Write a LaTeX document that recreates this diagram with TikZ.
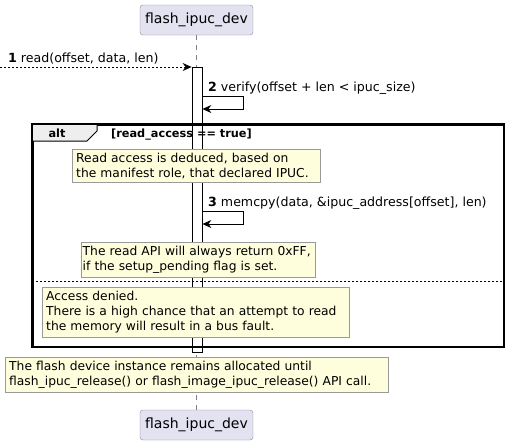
\documentclass[tikz,border=0pt]{standalone}
\usepackage{fontspec}
\setmainfont{DejaVu Sans}
\usetikzlibrary{arrows.meta}
\definecolor{partfill}{HTML}{E2E2F0}
\definecolor{partdraw}{HTML}{8A8AA0}
\definecolor{notefill}{HTML}{FEFEDC}
\definecolor{notedraw}{HTML}{9A9A9A}
\definecolor{tabfill}{HTML}{EEEEEE}
\tikzset{
  part/.style={draw=partdraw, fill=partfill, rounded corners=3pt, minimum width=113pt,
    minimum height=30pt, inner sep=0pt, font=\fontsize{14}{16}\selectfont},
  life/.style={draw=gray, dash pattern=on 5pt off 5pt, line width=0.6pt},
  actbar/.style={draw=black, fill=white, minimum width=10pt, inner sep=0pt, line width=0.8pt},
  msglabel/.style={inner sep=0pt, font=\fontsize{12.6}{15}\selectfont},
  msg/.style={draw=black, line width=0.8pt, -{Stealth[length=9pt, width=8pt, inset=3pt]}},
  dashmsg/.style={msg, dash pattern=on 2pt off 2pt},
  note/.style={draw=notedraw, fill=notefill, anchor=north west, align=left, inner xsep=4pt,
    inner ysep=3.5pt, font=\fontsize{12.3}{15.4}\selectfont},
  altframe/.style={draw=black, line width=1.5pt, anchor=north west, inner sep=0pt},
  condlabel/.style={inner sep=0pt, font=\fontsize{11.3}{13}\selectfont\bfseries},
  sepline/.style={draw=black, line width=0.7pt, dash pattern=on 2pt off 2pt},
}
\begin{document}
\begin{tikzpicture}[x=1pt, y=-1pt]
\useasboundingbox (0,0) rectangle (510,445);
% participants
\node[part] (top) at (196.5,20) {flash\_ipuc\_dev};
\node[part] (bot) at (196.5,425) {flash\_ipuc\_dev};
\draw[life] (top.south) -- (bot.north);
% activation
\node[actbar, minimum height=285pt, anchor=north] (act) at (197,67) {};
% alt frame
\node[altframe, minimum width=471pt, minimum height=222pt] (altbox) at (32,124) {};
\draw[fill=tabfill, line width=1pt] (altbox.north west) -- ++(65,0) -- ++(0,7) -- ++(-10,10) -- ++(-55,0) -- cycle;
\draw[line width=1.5pt] (altbox.north west) rectangle (altbox.south east);
\node[condlabel, anchor=base] (altname) at (57,137) {alt};
\node[condlabel, anchor=base west] (guard) at (111,137) {[read\_access == true]};
\draw[sepline] (altbox.west |- 0,281) -- (altbox.east |- 0,281);
% messages
\coordinate (caller) at (0,67);
\draw[dashmsg] (caller) -- (act.north west);
\node[msglabel, anchor=base west] (m1) at (8,62) {\textbf{1} read(offset, data, len)};
\node[msglabel, anchor=base west] (m2) at (208,91) {\textbf{2} verify(offset + len < ipuc\_size)};
\draw[msg] (act.east |- 0,96) -- ++(41,0) -- ++(0,13) -- (act.east |- 0,109);
\node[msglabel, anchor=base west] (m3) at (208,206) {\textbf{3} memcpy(data, \&ipuc\_address[offset], len)};
\draw[msg] (act.east |- 0,211) -- ++(41,0) -- ++(0,13) -- (act.east |- 0,224);
% notes
\node[note, text width=240pt] (n1) at (72,149) {Read access is deduced, based on\\the manifest role, that declared IPUC.};
\node[note, text width=231pt, inner xsep=1.5pt] (n2) at (81,242) {The read API will always return 0xFF,\\if the setup\_pending flag is set.};
\node[note, text width=299pt] (n3) at (42,287) {Access denied.\\There is a high chance that an attempt to read\\the memory will result in a bus fault.};
\node[note, text width=375pt] (n4) at (5,357) {The flash device instance remains allocated until\\flash\_ipuc\_release() or flash\_image\_ipuc\_release() API call.};
\end{tikzpicture}
\end{document}
